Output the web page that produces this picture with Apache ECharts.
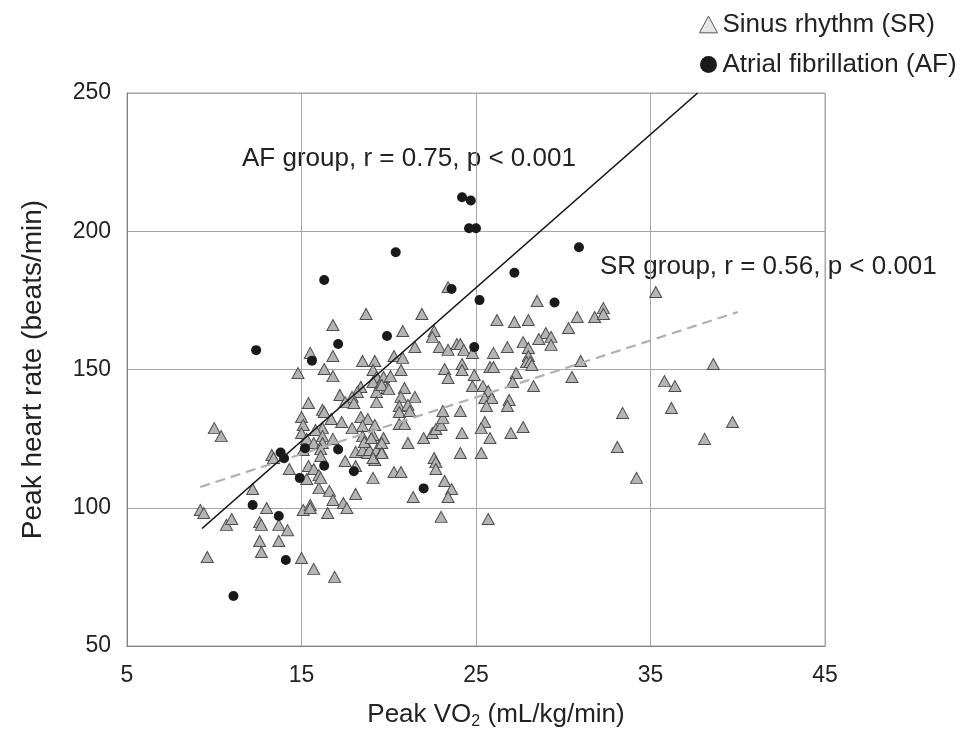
<!DOCTYPE html>
<html>
<head>
<meta charset="utf-8">
<script src="https://cdn.jsdelivr.net/npm/echarts@6/dist/echarts.min.js"></script>
<style>html,body{margin:0;padding:0;background:#fff;}#c{width:966px;height:729px;}</style>
</head>
<body>
<div id="c"></div>
<script>
const xTicks = [5, 15, 25, 35, 45];
const yTicks = [50, 100, 150, 200, 250];
const seriesNames = ['Sinus rhythm (SR)', 'Atrial fibrillation (AF)'];
const afData = [
[12.4,157.0],[11.1,68.1],[12.2,101.0],[13.7,97.0],[14.1,81.1],[13.8,120.0],[14.0,117.9],
[14.9,110.8],[15.2,121.5],[15.6,153.2],[16.3,182.4],[16.3,115.2],[17.1,159.2],[17.1,121.1],
[18.0,113.2],[19.9,162.1],[20.4,192.4],[22.0,107.0],[23.6,179.1],[24.2,212.3],[24.7,211.1],
[24.6,201.1],[25.0,201.1],[24.9,158.1],[25.2,175.1],[27.2,185.0],[29.5,174.2],[30.9,194.2]
];
const srData = [
[9.2,99.2],[9.4,98.1],[9.6,82.2],[10.0,128.8],[10.4,125.9],[10.7,93.8],[11.0,95.9],[12.2,106.8],
[13.0,99.9],[12.6,94.8],[12.7,93.8],[12.6,88.0],[12.7,84.0],[13.7,93.8],[14.2,91.9],[13.7,88.0],
[13.3,119.1],[13.4,118.0],[14.3,114.0],[14.8,148.7],[15.0,81.8],[15.7,77.9],[16.9,75.0],[15.1,99.2],
[15.5,101.0],[15.5,99.9],[16.5,98.1],[16.0,107.1],[16.6,106.1],[16.8,102.8],[15.3,110.4],[15.4,115.1],
[15.7,114.0],[16.0,111.8],[16.1,110.8],[15.4,137.9],[15.0,132.8],[15.1,129.9],[15.0,127.0],[16.2,135.4],
[16.3,134.6],[16.7,132.1],[16.2,128.8],[15.8,128.1],[16.2,125.9],[15.3,124.9],[15.7,123.4],[16.2,123.4],
[16.1,121.2],[16.1,118.7],[15.1,120.9],[16.8,124.9],[15.5,156.0],[16.8,154.9],[16.8,166.1],[16.3,150.2],
[16.8,147.6],[17.2,140.8],[18.7,170.1],[18.5,153.1],[19.2,153.1],[19.1,149.8],[19.3,147.3],[19.7,147.3],
[19.1,145.5],[19.5,144.4],[19.9,143.3],[19.3,141.9],[18.4,143.7],[18.2,141.9],[17.9,140.1],[17.5,138.2],
[18.0,137.9],[19.3,138.2],[17.3,131.0],[18.4,132.8],[18.8,132.1],[18.5,129.6],[19.2,129.9],[17.9,128.8],
[18.5,125.9],[19.1,126.3],[18.1,120.2],[18.5,120.9],[18.8,119.8],[19.2,117.3],[18.9,120.9],[19.3,120.9],
[19.6,120.2],[19.1,118.0],[17.5,116.9],[18.1,115.1],[19.1,110.8],[18.1,105.0],[17.4,101.7],[17.6,99.9],
[19.7,125.2],[18.6,123.8],[19.0,125.2],[20.8,163.9],[21.9,170.1],[22.6,163.9],[22.5,161.8],[20.3,154.9],
[20.8,154.2],[21.5,158.1],[22.9,158.1],[20.7,149.8],[20.1,147.6],[19.6,144.4],[20.0,142.9],[20.9,143.3],
[20.7,140.1],[21.5,140.1],[20.6,136.8],[21.1,137.2],[20.6,134.6],[21.2,135.0],[20.6,130.3],[20.9,130.3],
[22.0,125.2],[21.1,123.4],[19.6,123.4],[19.6,119.8],[22.5,127.0],[22.7,128.5],[23.0,129.9],[23.1,132.5],
[23.1,135.0],[22.6,118.0],[22.7,116.5],[22.7,114.0],[20.3,112.9],[20.7,112.9],[23.2,109.7],[23.6,106.8],
[23.4,103.9],[21.4,103.9],[23.0,96.7],[23.4,179.8],[23.4,157.1],[23.9,159.2],[24.1,159.2],[24.3,157.1],
[24.8,156.0],[23.2,150.2],[23.4,146.9],[24.2,152.0],[24.2,149.8],[24.9,148.0],[24.8,144.0],[25.4,144.0],
[25.7,142.2],[25.5,139.7],[25.9,139.7],[25.6,136.8],[24.1,135.0],[25.5,131.0],[25.3,128.8],[24.2,127.0],
[25.8,125.2],[24.1,119.8],[25.3,119.8],[25.7,95.9],[25.8,150.9],[26.0,150.9],[26.0,156.0],[26.2,167.9],
[27.2,167.2],[28.0,167.9],[28.5,174.8],[26.8,158.1],[27.7,159.9],[28.0,157.8],[28.0,154.9],[27.9,152.7],
[28.1,152.7],[28.2,151.6],[27.3,148.7],[27.1,145.5],[28.3,144.0],[26.9,139.0],[26.8,136.8],[27.0,127.0],
[27.7,129.2],[29.0,163.2],[29.3,161.8],[29.3,158.9],[28.6,161.0],[30.3,165.0],[30.8,169.0],[31.8,169.0],
[32.3,172.2],[32.3,170.1],[31.0,153.1],[30.5,147.3],[33.4,134.3],[33.1,122.0],[34.2,110.8],[35.3,178.0],
[38.6,152.0],[35.8,145.8],[36.4,144.0],[36.2,136.1],[39.7,131.0],[38.1,124.9]
];
// regression line endpoints
const afFit = [[9.3, 92.5], [37.7, 250]];
const srFit = [[9.2, 107.5], [40.0, 170.8]];
const afLabel = 'AF group, r = 0.75, p < 0.001';
const srLabel = 'SR group, r = 0.56, p < 0.001';

const txt = '#222';
const font = "'Liberation Sans', Arial, sans-serif";
const chart = echarts.init(document.getElementById('c'));
chart.setOption({
  animation: false,
  textStyle: {fontFamily: font, color: txt},
  grid: {left: 127, right: 141, top: 93, bottom: 83, show: true, borderColor: '#a6a6a6', borderWidth: 1,
         containLabel: false, outerBoundsMode: 'none'},
  legend: {
    orient: 'vertical', left: 694, top: 6, itemGap: 13,
    itemWidth: 18, itemHeight: 17,
    textStyle: {fontSize: 26, color: txt, fontFamily: font, lineHeight: 27},
    data: [
      {name: seriesNames[0], icon: 'path://M8,1 L15,14 L1,14 Z', itemStyle: {color: '#e6e6e6', borderColor: '#555', borderWidth: 1}},
      {name: seriesNames[1], icon: 'circle', itemStyle: {color: '#1a1a1a'}}
    ]
  },
  xAxis: {
    type: 'value', min: xTicks[0], max: xTicks[xTicks.length - 1], interval: 10,
    name: 'Peak VO{sub|2} (mL/kg/min)', nameLocation: 'middle', nameGap: 54,
    nameTextStyle: {fontSize: 26, color: txt, fontFamily: font, padding: [0, 0, 0, 40],
      rich: {sub: {fontSize: 16, verticalAlign: 'bottom', padding: [14, 0, 0, 0], fontFamily: font, color: txt}}},
    axisLine: {lineStyle: {color: '#7f7f7f'}},
    axisTick: {show: false},
    axisLabel: {fontSize: 23, color: txt, margin: 18, fontFamily: font},
    splitLine: {lineStyle: {color: '#a6a6a6', width: 1}}
  },
  yAxis: {
    type: 'value', min: yTicks[0], max: yTicks[yTicks.length - 1], interval: 50,
    name: 'Peak heart rate (beats/min)', nameLocation: 'middle', nameGap: 80,
    nameTextStyle: {fontSize: 28, color: txt, fontFamily: font},
    axisLine: {show: true, lineStyle: {color: '#7f7f7f'}},
    axisTick: {show: false},
    axisLabel: {fontSize: 23, color: txt, margin: 16, fontFamily: font},
    splitLine: {lineStyle: {color: '#a6a6a6', width: 1}}
  },
  graphic: [
    {type: 'text', left: 242, top: 146, style: {text: afLabel, fontSize: 26, fill: txt, fontFamily: font}},
    {type: 'text', left: 600, top: 254, style: {text: srLabel, fontSize: 26, fill: txt, fontFamily: font}}
  ],
  series: [
    {name: seriesNames[0], type: 'scatter', data: srData, symbol: 'triangle', symbolSize: [12, 11], z: 2,
     itemStyle: {color: '#b4b4b4', borderColor: '#4d4d4d', borderWidth: 1, opacity: 1}},
    {type: 'line', data: srFit, symbol: 'none', z: 3, silent: true,
     lineStyle: {color: '#b0b0b0', width: 2.2, type: [10, 6]}},
    {type: 'line', data: afFit, symbol: 'none', z: 4, silent: true,
     lineStyle: {color: '#111', width: 1.6}},
    {name: seriesNames[1], type: 'scatter', data: afData, symbol: 'circle', symbolSize: 10, z: 5,
     itemStyle: {color: '#1a1a1a', opacity: 1}}
  ]
});
</script>
</body>
</html>
